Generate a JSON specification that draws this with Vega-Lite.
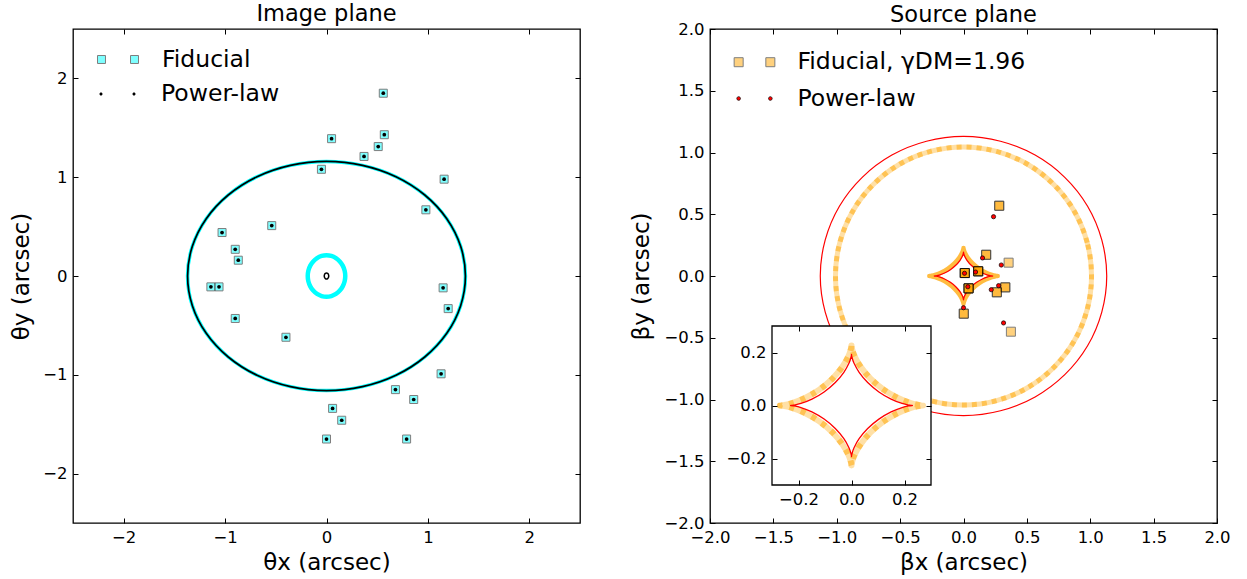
{
  "$schema": "https://vega.github.io/schema/vega-lite/v6.json",
  "background": "white",
  "padding": {"left": 10, "top": 2, "right": 5, "bottom": 0},
  "config": {
    "font": "DejaVu Sans",
    "view": {"stroke": "black", "strokeWidth": 1.3},
    "axis": {"labelFont": "DejaVu Sans", "labelFontSize": 16.5, "labelColor": "black", "titleFont": "DejaVu Sans", "titleFontSize": 23, "titleFontWeight": "normal", "titleColor": "black", "tickColor": "black", "tickSize": -5, "tickWidth": 1, "labelPadding": 11, "domain": false, "grid": false, "labelFlush": false, "labelOverlap": false},
    "title": {"font": "DejaVu Sans", "fontSize": 22.5, "fontWeight": "normal", "color": "black", "anchor": "middle", "offset": 3, "frame": "group"},
    "legend": {"labelFont": "DejaVu Sans", "labelFontSize": 23.5, "labelColor": "black", "labelLimit": 500, "padding": 0, "symbolSize": 1681}
  },
  "datasets": {
    "bigEllipse": [
      {"i":0,"x":1.37,"y":0},{"i":1,"x":1.323,"y":0.3},{"i":2,"x":1.186,"y":0.58},{"i":3,"x":0.969,"y":0.82},{"i":4,"x":0.685,"y":1.005},{"i":5,"x":0.355,"y":1.12},
      {"i":6,"x":0,"y":1.16},{"i":7,"x":-0.355,"y":1.12},{"i":8,"x":-0.685,"y":1.005},{"i":9,"x":-0.969,"y":0.82},{"i":10,"x":-1.186,"y":0.58},{"i":11,"x":-1.323,"y":0.3},
      {"i":12,"x":-1.37,"y":0},{"i":13,"x":-1.323,"y":-0.3},{"i":14,"x":-1.186,"y":-0.58},{"i":15,"x":-0.969,"y":-0.82},{"i":16,"x":-0.685,"y":-1.005},{"i":17,"x":-0.355,"y":-1.12},
      {"i":18,"x":0,"y":-1.16},{"i":19,"x":0.355,"y":-1.12},{"i":20,"x":0.685,"y":-1.005},{"i":21,"x":0.969,"y":-0.82},{"i":22,"x":1.186,"y":-0.58},{"i":23,"x":1.323,"y":-0.3}
    ],
    "smallEllipse": [
      {"i":0,"x":0.185,"y":0},{"i":1,"x":0.179,"y":0.054},{"i":2,"x":0.16,"y":0.105},{"i":3,"x":0.131,"y":0.148},{"i":4,"x":0.093,"y":0.182},{"i":5,"x":0.048,"y":0.203},
      {"i":6,"x":0,"y":0.21},{"i":7,"x":-0.048,"y":0.203},{"i":8,"x":-0.093,"y":0.182},{"i":9,"x":-0.131,"y":0.148},{"i":10,"x":-0.16,"y":0.105},{"i":11,"x":-0.179,"y":0.054},
      {"i":12,"x":-0.185,"y":0},{"i":13,"x":-0.179,"y":-0.054},{"i":14,"x":-0.16,"y":-0.105},{"i":15,"x":-0.131,"y":-0.148},{"i":16,"x":-0.093,"y":-0.182},{"i":17,"x":-0.048,"y":-0.203},
      {"i":18,"x":0,"y":-0.21},{"i":19,"x":0.048,"y":-0.203},{"i":20,"x":0.093,"y":-0.182},{"i":21,"x":0.131,"y":-0.148},{"i":22,"x":0.16,"y":-0.105},{"i":23,"x":0.179,"y":-0.054}
    ],
    "tinyEllipse": [
      {"i":0,"x":0.022,"y":0},{"i":1,"x":0.019,"y":0.015},{"i":2,"x":0.011,"y":0.026},{"i":3,"x":0,"y":0.03},{"i":4,"x":-0.011,"y":0.026},{"i":5,"x":-0.019,"y":0.015},
      {"i":6,"x":-0.022,"y":0},{"i":7,"x":-0.019,"y":-0.015},{"i":8,"x":-0.011,"y":-0.026},{"i":9,"x":0,"y":-0.03},{"i":10,"x":0.011,"y":-0.026},{"i":11,"x":0.019,"y":-0.015}
    ],
    "imagePoints": [
      {"x":0.56,"y":1.85},{"x":0.05,"y":1.39},{"x":0.57,"y":1.43},{"x":0.51,"y":1.31},{"x":0.37,"y":1.21},
      {"x":-0.05,"y":1.08},{"x":1.16,"y":0.98},{"x":0.98,"y":0.67},{"x":-0.54,"y":0.51},{"x":-1.03,"y":0.44},
      {"x":-0.9,"y":0.27},{"x":-0.87,"y":0.16},{"x":-1.14,"y":-0.11},{"x":-1.06,"y":-0.11},{"x":1.15,"y":-0.12},
      {"x":1.2,"y":-0.33},{"x":-0.9,"y":-0.43},{"x":-0.4,"y":-0.62},{"x":1.13,"y":-0.99},{"x":0.68,"y":-1.15},
      {"x":0.86,"y":-1.25},{"x":0.06,"y":-1.34},{"x":0.15,"y":-1.46},{"x":0.0,"y":-1.65},{"x":0.79,"y":-1.65}
    ],
    "orangeCircle": [
      {"i":0,"x":1.01,"y":0},{"i":1,"x":0.976,"y":0.27},{"i":2,"x":0.875,"y":0.523},{"i":3,"x":0.714,"y":0.739},{"i":4,"x":0.505,"y":0.905},{"i":5,"x":0.261,"y":1.009},
      {"i":6,"x":0,"y":1.045},{"i":7,"x":-0.261,"y":1.009},{"i":8,"x":-0.505,"y":0.905},{"i":9,"x":-0.714,"y":0.739},{"i":10,"x":-0.875,"y":0.523},{"i":11,"x":-0.976,"y":0.27},
      {"i":12,"x":-1.01,"y":0},{"i":13,"x":-0.976,"y":-0.27},{"i":14,"x":-0.875,"y":-0.523},{"i":15,"x":-0.714,"y":-0.739},{"i":16,"x":-0.505,"y":-0.905},{"i":17,"x":-0.261,"y":-1.009},
      {"i":18,"x":0,"y":-1.045},{"i":19,"x":0.261,"y":-1.009},{"i":20,"x":0.505,"y":-0.905},{"i":21,"x":0.714,"y":-0.739},{"i":22,"x":0.875,"y":-0.523},{"i":23,"x":0.976,"y":-0.27}
    ],
    "redCircle": [
      {"i":0,"x":1.13,"y":0},{"i":1,"x":1.091,"y":0.292},{"i":2,"x":0.979,"y":0.565},{"i":3,"x":0.799,"y":0.799},{"i":4,"x":0.565,"y":0.979},{"i":5,"x":0.292,"y":1.091},
      {"i":6,"x":0,"y":1.13},{"i":7,"x":-0.292,"y":1.091},{"i":8,"x":-0.565,"y":0.979},{"i":9,"x":-0.799,"y":0.799},{"i":10,"x":-0.979,"y":0.565},{"i":11,"x":-1.091,"y":0.292},
      {"i":12,"x":-1.13,"y":0},{"i":13,"x":-1.091,"y":-0.292},{"i":14,"x":-0.979,"y":-0.565},{"i":15,"x":-0.799,"y":-0.799},{"i":16,"x":-0.565,"y":-0.979},{"i":17,"x":-0.292,"y":-1.091},
      {"i":18,"x":0,"y":-1.13},{"i":19,"x":0.292,"y":-1.091},{"i":20,"x":0.565,"y":-0.979},{"i":21,"x":0.799,"y":-0.799},{"i":22,"x":0.979,"y":-0.565},{"i":23,"x":1.091,"y":-0.292}
    ],
    "astroidRed": [
      {"i":0,"x":0.23,"y":0},{"i":1,"x":0.2197,"y":0.001},{"i":2,"x":0.1909,"y":0.0077},{"i":3,"x":0.1494,"y":0.0241},{"i":4,"x":0.1034,"y":0.0513},{"i":5,"x":0.0611,"y":0.0868},
      {"i":6,"x":0.0288,"y":0.1254},{"i":7,"x":0.0092,"y":0.1602},{"i":8,"x":0.0012,"y":0.1843},{"i":9,"x":0,"y":0.193},{"i":10,"x":-0.0012,"y":0.1843},{"i":11,"x":-0.0092,"y":0.1602},
      {"i":12,"x":-0.0288,"y":0.1254},{"i":13,"x":-0.0611,"y":0.0868},{"i":14,"x":-0.1034,"y":0.0513},{"i":15,"x":-0.1494,"y":0.0241},{"i":16,"x":-0.1909,"y":0.0077},{"i":17,"x":-0.2197,"y":0.001},
      {"i":18,"x":-0.23,"y":0},{"i":19,"x":-0.2197,"y":-0.001},{"i":20,"x":-0.1909,"y":-0.0077},{"i":21,"x":-0.1494,"y":-0.0241},{"i":22,"x":-0.1034,"y":-0.0513},{"i":23,"x":-0.0611,"y":-0.0868},
      {"i":24,"x":-0.0288,"y":-0.1254},{"i":25,"x":-0.0092,"y":-0.1602},{"i":26,"x":-0.0012,"y":-0.1843},{"i":27,"x":0,"y":-0.193},{"i":28,"x":0.0012,"y":-0.1843},{"i":29,"x":0.0092,"y":-0.1602},
      {"i":30,"x":0.0288,"y":-0.1254},{"i":31,"x":0.0611,"y":-0.0868},{"i":32,"x":0.1034,"y":-0.0513},{"i":33,"x":0.1494,"y":-0.0241},{"i":34,"x":0.1909,"y":-0.0077},{"i":35,"x":0.2197,"y":-0.001}
    ],
    "astroidOrange": [
      {"i":0,"x":0.27,"y":0},{"i":1,"x":0.2579,"y":0.0012},{"i":2,"x":0.224,"y":0.009},{"i":3,"x":0.1754,"y":0.0283},{"i":4,"x":0.1214,"y":0.06},{"i":5,"x":0.0717,"y":0.1016},
      {"i":6,"x":0.0338,"y":0.1468},{"i":7,"x":0.0108,"y":0.1875},{"i":8,"x":0.0014,"y":0.2159},{"i":9,"x":0,"y":0.226},{"i":10,"x":-0.0014,"y":0.2159},{"i":11,"x":-0.0108,"y":0.1875},
      {"i":12,"x":-0.0338,"y":0.1468},{"i":13,"x":-0.0717,"y":0.1016},{"i":14,"x":-0.1214,"y":0.06},{"i":15,"x":-0.1754,"y":0.0283},{"i":16,"x":-0.224,"y":0.009},{"i":17,"x":-0.2579,"y":0.0012},
      {"i":18,"x":-0.27,"y":0},{"i":19,"x":-0.2579,"y":-0.0012},{"i":20,"x":-0.224,"y":-0.009},{"i":21,"x":-0.1754,"y":-0.0283},{"i":22,"x":-0.1214,"y":-0.06},{"i":23,"x":-0.0717,"y":-0.1016},
      {"i":24,"x":-0.0338,"y":-0.1468},{"i":25,"x":-0.0108,"y":-0.1875},{"i":26,"x":-0.0014,"y":-0.2159},{"i":27,"x":0,"y":-0.226},{"i":28,"x":0.0014,"y":-0.2159},{"i":29,"x":0.0108,"y":-0.1875},
      {"i":30,"x":0.0338,"y":-0.1468},{"i":31,"x":0.0717,"y":-0.1016},{"i":32,"x":0.1214,"y":-0.06},{"i":33,"x":0.1754,"y":-0.0283},{"i":34,"x":0.224,"y":-0.009},{"i":35,"x":0.2579,"y":-0.0012}
    ],
    "sourceFiducial": [
      {"x":0.282,"y":0.569},{"x":0.282,"y":0.569},
      {"x":0.179,"y":0.172},{"x":0.179,"y":0.172},
      {"x":0.356,"y":0.108},
      {"x":0.01,"y":0.024},{"x":0.01,"y":0.024},{"x":0.01,"y":0.024},{"x":0.01,"y":0.024},
      {"x":0.116,"y":0.038},{"x":0.116,"y":0.038},{"x":0.116,"y":0.038},{"x":0.116,"y":0.038},
      {"x":0.04,"y":-0.1},{"x":0.04,"y":-0.1},{"x":0.04,"y":-0.1},{"x":0.04,"y":-0.1},
      {"x":0.33,"y":-0.092},{"x":0.33,"y":-0.092},
      {"x":0.263,"y":-0.132},{"x":0.263,"y":-0.132},
      {"x":0.002,"y":-0.305},{"x":0.002,"y":-0.305},
      {"x":0.374,"y":-0.451}
    ],
    "sourcePowerLaw": [
      {"x":0.237,"y":0.48},{"x":0.15,"y":0.146},{"x":0.298,"y":0.089},{"x":0.008,"y":0.022},{"x":0.095,"y":0.032},
      {"x":0.034,"y":-0.087},{"x":0.277,"y":-0.078},{"x":0.219,"y":-0.111},{"x":0.0,"y":-0.257},{"x":0.316,"y":-0.38}
    ]
  },
  "resolve": {"scale": {"fill": "independent", "color": "independent"}, "legend": {"fill": "independent", "color": "independent"}},
  "bounds": "flush",
  "spacing": 130,
  "hconcat": [
    {
      "width": 507,
      "height": 494,
      "title": {"text": "Image plane"},
      "layer": [
        {
          "data": {"name": "bigEllipse"},
          "mark": {"type": "line", "interpolate": "cardinal-closed", "stroke": "#00ffff", "strokeWidth": 3.5},
          "encoding": {
            "x": {"field": "x", "type": "quantitative", "scale": {"domain": [-2.5, 2.5], "nice": false, "zero": false}, "axis": {"orient": "bottom", "values": [-2, -1, 0, 1, 2], "format": "d", "title": "θx (arcsec)", "titlePadding": 6}},
            "y": {"field": "y", "type": "quantitative", "scale": {"domain": [-2.5, 2.5], "nice": false, "zero": false}, "axis": {"orient": "left", "values": [-2, -1, 0, 1, 2], "format": "d", "title": "θy (arcsec)", "titlePadding": 9}},
            "order": {"field": "i", "type": "quantitative"}
          }
        },
        {
          "data": {"name": "bigEllipse"},
          "mark": {"type": "line", "interpolate": "cardinal-closed", "stroke": "black", "strokeWidth": 1.7},
          "encoding": {
            "x": {"field": "x", "type": "quantitative", "axis": {"orient": "top", "values": [-2, -1, 0, 1, 2], "labels": false, "title": null, "minExtent": 0, "maxExtent": 0}},
            "y": {"field": "y", "type": "quantitative", "axis": {"orient": "right", "values": [-2, -1, 0, 1, 2], "labels": false, "title": null, "minExtent": 0, "maxExtent": 0}},
            "order": {"field": "i", "type": "quantitative"}
          }
        },
        {
          "data": {"name": "smallEllipse"},
          "mark": {"type": "line", "interpolate": "cardinal-closed", "stroke": "#00ffff", "strokeWidth": 4.5},
          "encoding": {
            "x": {"field": "x", "type": "quantitative", "axis": null},
            "y": {"field": "y", "type": "quantitative", "axis": null},
            "order": {"field": "i", "type": "quantitative"}
          }
        },
        {
          "data": {"name": "tinyEllipse"},
          "mark": {"type": "line", "interpolate": "cardinal-closed", "stroke": "black", "strokeWidth": 1.5},
          "encoding": {
            "x": {"field": "x", "type": "quantitative", "axis": null},
            "y": {"field": "y", "type": "quantitative", "axis": null},
            "order": {"field": "i", "type": "quantitative"}
          }
        },
        {
          "data": {"name": "imagePoints"},
          "mark": {"type": "point", "shape": "square", "filled": true, "size": 64, "opacity": 0.5, "stroke": "black", "strokeWidth": 1},
          "encoding": {
            "x": {"field": "x", "type": "quantitative", "axis": null},
            "y": {"field": "y", "type": "quantitative", "axis": null},
            "fill": {
              "datum": "Fiducial", "type": "nominal",
              "scale": {"domain": ["Fiducial"], "range": ["#00ffff"]},
              "legend": {
                "title": null, "orient": "none", "legendX": 24, "legendY": 9.5, "labelOffset": 23,
                "symbolType": "M-1,-0.195h0.39v0.39h-0.39zM0.61,-0.195h0.39v0.39h-0.39z",
                "symbolSize": 1681, "symbolOpacity": 0.5, "symbolStrokeColor": "black", "symbolStrokeWidth": 1
              }
            }
          }
        },
        {
          "data": {"name": "imagePoints"},
          "mark": {"type": "point", "shape": "circle", "filled": true, "size": 14, "opacity": 1, "strokeWidth": 0},
          "encoding": {
            "x": {"field": "x", "type": "quantitative", "axis": null},
            "y": {"field": "y", "type": "quantitative", "axis": null},
            "color": {
              "datum": "Power-law", "type": "nominal",
              "scale": {"domain": ["Power-law"], "range": ["black"]},
              "legend": {
                "title": null, "orient": "none", "legendX": 24, "legendY": 44.5, "labelOffset": 23,
                "symbolType": "M-0.88,0a0.075 0.075 0 1 0 0.15 0a0.075 0.075 0 1 0 -0.15 0zM0.73,0a0.075 0.075 0 1 0 0.15 0a0.075 0.075 0 1 0 -0.15 0z",
                "symbolSize": 1681, "symbolOpacity": 1, "symbolStrokeWidth": 0
              }
            }
          }
        }
      ]
    },
    {
      "width": 507,
      "height": 494,
      "title": {"text": "Source plane", "offset": -5},
      "resolve": {"scale": {"x": "independent", "y": "independent"}},
      "layer": [
        {
          "layer": [
            {
              "data": {"name": "orangeCircle"},
              "mark": {"type": "line", "interpolate": "cardinal-closed", "stroke": "#ffa500", "strokeOpacity": 0.35, "strokeWidth": 5},
              "encoding": {
                "x": {"field": "x", "type": "quantitative", "scale": {"domain": [-2, 2], "nice": false, "zero": false}, "axis": {"orient": "bottom", "values": [-2, -1.5, -1, -0.5, 0, 0.5, 1, 1.5, 2], "format": ".1f", "title": "βx (arcsec)", "titlePadding": 6}},
                "y": {"field": "y", "type": "quantitative", "scale": {"domain": [-2, 2], "nice": false, "zero": false}, "axis": {"orient": "left", "values": [-2, -1.5, -1, -0.5, 0, 0.5, 1, 1.5, 2], "format": ".1f", "title": "βy (arcsec)", "titlePadding": 10}},
                "order": {"field": "i", "type": "quantitative"}
              }
            },
            {
              "data": {"name": "orangeCircle"},
              "mark": {"type": "line", "interpolate": "cardinal-closed", "stroke": "#ffa500", "strokeOpacity": 0.5, "strokeWidth": 5, "strokeDash": [5, 5]},
              "encoding": {
                "x": {"field": "x", "type": "quantitative", "axis": {"orient": "top", "values": [-2, -1.5, -1, -0.5, 0, 0.5, 1, 1.5, 2], "labels": false, "title": null, "minExtent": 0, "maxExtent": 0}},
                "y": {"field": "y", "type": "quantitative", "axis": {"orient": "right", "values": [-2, -1.5, -1, -0.5, 0, 0.5, 1, 1.5, 2], "labels": false, "title": null, "minExtent": 0, "maxExtent": 0}},
                "order": {"field": "i", "type": "quantitative"}
              }
            },
            {
              "data": {"name": "redCircle"},
              "mark": {"type": "line", "interpolate": "cardinal-closed", "stroke": "red", "strokeWidth": 1.2},
              "encoding": {
                "x": {"field": "x", "type": "quantitative", "axis": null},
                "y": {"field": "y", "type": "quantitative", "axis": null},
                "order": {"field": "i", "type": "quantitative"}
              }
            },
            {
              "data": {"name": "astroidOrange"},
              "mark": {"type": "line", "interpolate": "cardinal-closed", "stroke": "#ffa500", "strokeOpacity": 0.75, "strokeWidth": 4.5},
              "encoding": {
                "x": {"field": "x", "type": "quantitative", "axis": null},
                "y": {"field": "y", "type": "quantitative", "axis": null},
                "order": {"field": "i", "type": "quantitative"}
              }
            },
            {
              "data": {"name": "astroidRed"},
              "mark": {"type": "line", "interpolate": "cardinal-closed", "stroke": "red", "strokeWidth": 1.3},
              "encoding": {
                "x": {"field": "x", "type": "quantitative", "axis": null},
                "y": {"field": "y", "type": "quantitative", "axis": null},
                "order": {"field": "i", "type": "quantitative"}
              }
            },
            {
              "data": {"name": "sourceFiducial"},
              "mark": {"type": "point", "shape": "square", "filled": true, "size": 81, "opacity": 0.5, "stroke": "black", "strokeWidth": 1},
              "encoding": {
                "x": {"field": "x", "type": "quantitative", "axis": null},
                "y": {"field": "y", "type": "quantitative", "axis": null},
                "fill": {
                  "datum": "Fiducial, γDM=1.96", "type": "nominal",
                  "scale": {"domain": ["Fiducial, γDM=1.96"], "range": ["#ffa500"]},
                  "legend": {
                    "title": null, "orient": "none", "legendX": 23.5, "legendY": 12.2, "labelOffset": 22,
                    "symbolType": "M-0.993,-0.22h0.44v0.44h-0.44zM0.553,-0.22h0.44v0.44h-0.44z",
                    "symbolSize": 1681, "symbolOpacity": 0.5, "symbolStrokeColor": "black", "symbolStrokeWidth": 1
                  }
                }
              }
            },
            {
              "data": {"name": "sourcePowerLaw"},
              "mark": {"type": "point", "shape": "circle", "filled": true, "size": 18, "opacity": 1, "stroke": "black", "strokeWidth": 0.7},
              "encoding": {
                "x": {"field": "x", "type": "quantitative", "axis": null},
                "y": {"field": "y", "type": "quantitative", "axis": null},
                "color": {
                  "datum": "Power-law", "type": "nominal",
                  "scale": {"domain": ["Power-law"], "range": ["red"]},
                  "legend": {
                    "title": null, "orient": "none", "legendX": 23.5, "legendY": 48.5, "labelOffset": 22,
                    "symbolType": "M-0.863,0a0.09 0.09 0 1 0 0.18 0a0.09 0.09 0 1 0 -0.18 0zM0.683,0a0.09 0.09 0 1 0 0.18 0a0.09 0.09 0 1 0 -0.18 0z",
                    "symbolSize": 1681, "symbolOpacity": 1, "symbolStrokeColor": "black", "symbolStrokeWidth": 0.7
                  }
                }
              }
            }
          ]
        },
        {
          "layer": [
            {
              "data": {"values": [{}]},
              "mark": {"type": "rect", "fill": "white", "stroke": "black", "strokeWidth": 1.3},
              "encoding": {
                "x": {"datum": -0.3, "type": "quantitative", "scale": {"domain": [-0.3, 0.3], "range": [62, 221], "nice": false, "zero": false}, "axis": {"orient": "bottom", "offset": -38, "values": [-0.2, 0, 0.2], "format": ".1f", "title": null, "zindex": 1}},
                "x2": {"datum": 0.3},
                "y": {"datum": -0.3, "type": "quantitative", "scale": {"domain": [-0.3, 0.3], "range": [456, 297], "nice": false, "zero": false}, "axis": {"orient": "left", "offset": -62, "values": [-0.2, 0, 0.2], "format": ".1f", "title": null, "zindex": 1}},
                "y2": {"datum": 0.3}
              }
            },
            {
              "data": {"name": "astroidOrange"},
              "mark": {"type": "line", "interpolate": "cardinal-closed", "stroke": "#ffa500", "strokeOpacity": 0.35, "strokeWidth": 6},
              "encoding": {
                "x": {"field": "x", "type": "quantitative", "axis": {"orient": "top", "offset": -297, "values": [-0.2, 0, 0.2], "labels": false, "title": null, "zindex": 1, "minExtent": 0, "maxExtent": 0}},
                "y": {"field": "y", "type": "quantitative", "axis": {"orient": "right", "offset": -286, "values": [-0.2, 0, 0.2], "labels": false, "title": null, "zindex": 1, "minExtent": 0, "maxExtent": 0}},
                "order": {"field": "i", "type": "quantitative"}
              }
            },
            {
              "data": {"name": "astroidOrange"},
              "mark": {"type": "line", "interpolate": "cardinal-closed", "stroke": "#ffa500", "strokeOpacity": 0.5, "strokeWidth": 6, "strokeDash": [5, 7]},
              "encoding": {
                "x": {"field": "x", "type": "quantitative", "axis": null},
                "y": {"field": "y", "type": "quantitative", "axis": null},
                "order": {"field": "i", "type": "quantitative"}
              }
            },
            {
              "data": {"name": "astroidRed"},
              "mark": {"type": "line", "interpolate": "cardinal-closed", "stroke": "red", "strokeWidth": 1.3},
              "encoding": {
                "x": {"field": "x", "type": "quantitative", "axis": null},
                "y": {"field": "y", "type": "quantitative", "axis": null},
                "order": {"field": "i", "type": "quantitative"}
              }
            }
          ]
        }
      ]
    }
  ]
}
